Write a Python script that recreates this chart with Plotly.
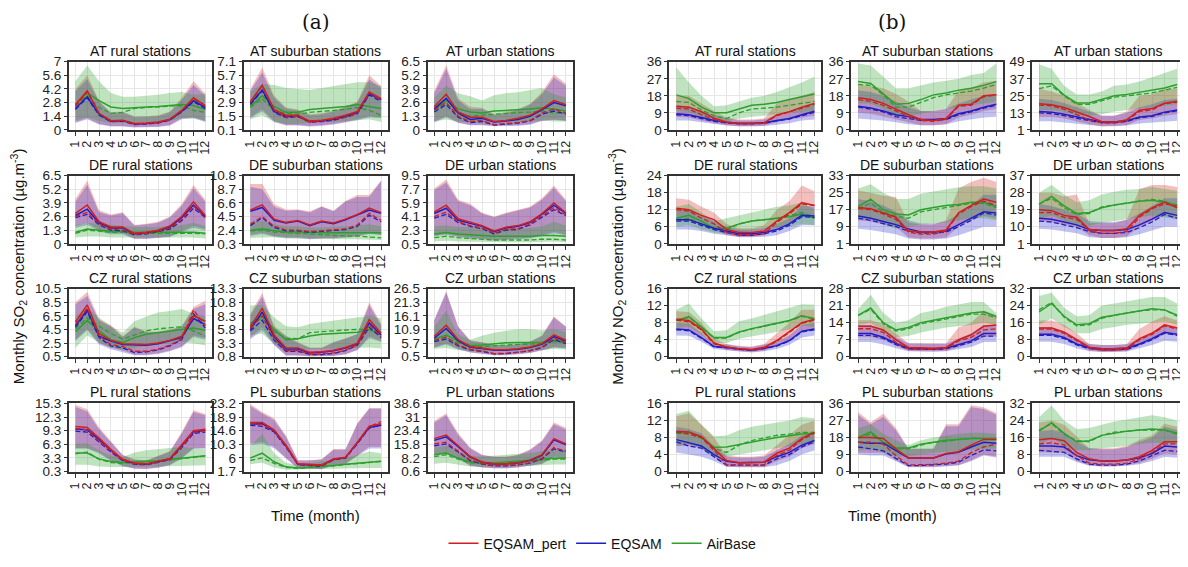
import plotly.graph_objects as go
import numpy as np

months = list(range(1, 13))
month_labels = [str(m) for m in months]
countries = ["AT", "DE", "CZ", "PL"]
stations = ["rural", "suburban", "urban"]
series_names = ["EQSAM_pert", "EQSAM", "AirBase"]

# ---------------- SO2 (panel a) ----------------
so2_AT_rural = dict(ylim=[0, 7],
    pert=[2.6, 4.0, 1.7, 0.95, 1.0, 0.65, 0.7, 0.8, 1.1, 2.0, 3.3, 2.5],
    pert_med=[2.4, 3.9, 1.7, 0.9, 0.95, 0.6, 0.65, 0.75, 1.05, 2.0, 3.2, 2.4],
    pert_lo=[0.8, 1.2, 0.6, 0.4, 0.4, 0.3, 0.3, 0.35, 0.5, 1.2, 1.3, 0.9],
    pert_hi=[4.2, 5.6, 3.0, 1.8, 1.9, 1.4, 1.4, 1.5, 1.9, 3.3, 5.0, 3.7],
    eq=[2.2, 3.4, 1.6, 0.9, 0.95, 0.6, 0.65, 0.75, 1.05, 1.9, 3.0, 2.3],
    eq_med=[2.1, 3.3, 1.5, 0.85, 0.9, 0.55, 0.6, 0.7, 1.0, 1.85, 2.9, 2.2],
    eq_lo=[0.7, 1.1, 0.55, 0.35, 0.35, 0.25, 0.3, 0.3, 0.45, 1.1, 1.2, 0.8],
    eq_hi=[4.0, 5.2, 2.9, 1.7, 1.8, 1.3, 1.35, 1.4, 1.8, 3.1, 4.6, 3.5],
    ab=[2.6, 3.8, 3.0, 2.35, 2.2, 2.3, 2.35, 2.4, 2.5, 2.6, 2.5, 2.1],
    ab_med=[2.5, 3.5, 2.3, 1.7, 1.8, 2.2, 2.3, 2.35, 2.4, 2.5, 2.0, 1.8],
    ab_lo=[1.0, 1.3, 0.9, 0.7, 0.7, 0.7, 0.75, 0.8, 0.9, 1.2, 1.2, 0.9],
    ab_hi=[5.0, 6.6, 5.0, 3.8, 3.4, 3.4, 3.5, 3.6, 3.8, 3.9, 3.6, 3.7])

so2_AT_suburban = dict(ylim=[0.1, 7.1],
    pert=[3.0, 4.7, 2.2, 1.6, 1.6, 1.0, 1.1, 1.3, 1.6, 2.0, 4.0, 3.3],
    pert_med=[2.9, 4.6, 2.1, 1.4, 1.5, 0.9, 1.0, 1.2, 1.4, 1.8, 3.9, 3.2],
    pert_lo=[1.4, 2.2, 1.0, 0.6, 0.6, 0.5, 0.6, 0.7, 0.9, 1.2, 1.5, 1.4],
    pert_hi=[4.3, 6.5, 3.6, 2.4, 2.2, 1.7, 1.8, 2.1, 2.5, 3.0, 5.7, 4.6],
    eq=[2.8, 4.2, 2.0, 1.5, 1.5, 0.95, 1.0, 1.2, 1.5, 1.9, 3.8, 3.2],
    eq_med=[2.7, 4.1, 1.9, 1.35, 1.45, 0.9, 0.95, 1.1, 1.4, 1.75, 3.7, 3.0],
    eq_lo=[1.3, 2.0, 0.9, 0.55, 0.55, 0.45, 0.5, 0.65, 0.85, 1.1, 1.4, 1.3],
    eq_hi=[4.1, 6.0, 3.4, 2.3, 2.1, 1.6, 1.7, 2.0, 2.4, 2.9, 5.3, 4.4],
    ab=[2.5, 3.6, 2.5, 1.9, 1.9, 2.2, 2.3, 2.4, 2.5, 2.7, 2.5, 2.3],
    ab_med=[2.4, 3.3, 2.1, 1.8, 1.7, 1.9, 2.0, 2.1, 2.2, 2.4, 2.1, 1.6],
    ab_lo=[1.2, 1.6, 0.9, 0.7, 0.7, 0.8, 0.9, 0.9, 1.0, 1.1, 1.2, 0.9],
    ab_hi=[4.0, 4.8, 4.7, 4.4, 4.3, 4.2, 4.4, 4.6, 4.8, 5.0, 5.0, 4.6])

so2_AT_urban = dict(ylim=[0, 6.5],
    pert=[2.2, 3.4, 1.7, 1.2, 1.2, 0.8, 0.9, 1.1, 1.4, 2.0, 2.8, 2.4],
    pert_med=[1.9, 2.6, 1.3, 0.8, 0.9, 0.5, 0.6, 0.7, 0.9, 1.6, 2.0, 1.6],
    pert_lo=[0.8, 1.3, 0.7, 0.5, 0.5, 0.4, 0.4, 0.45, 0.55, 0.9, 1.0, 0.9],
    pert_hi=[3.7, 6.2, 3.0, 2.2, 2.1, 1.5, 1.7, 2.0, 2.5, 3.6, 5.3, 4.4],
    eq=[2.0, 3.0, 1.6, 1.0, 1.1, 0.75, 0.85, 1.0, 1.3, 1.9, 2.6, 2.3],
    eq_med=[1.7, 2.4, 1.2, 0.7, 0.8, 0.45, 0.55, 0.65, 0.85, 1.5, 1.8, 1.5],
    eq_lo=[0.7, 1.2, 0.65, 0.45, 0.45, 0.35, 0.4, 0.4, 0.5, 0.85, 0.95, 0.85],
    eq_hi=[3.5, 5.8, 2.8, 2.0, 2.0, 1.4, 1.6, 1.9, 2.4, 3.4, 5.0, 4.2],
    ab=[1.9, 2.8, 2.0, 1.7, 1.6, 1.8, 1.85, 1.9, 2.0, 2.1, 2.0, 1.8],
    ab_med=[1.8, 2.5, 1.6, 1.3, 1.4, 1.5, 1.6, 1.65, 1.7, 1.8, 1.6, 1.6],
    ab_lo=[0.8, 1.0, 0.8, 0.7, 0.7, 0.7, 0.7, 0.7, 0.8, 0.9, 0.8, 0.8],
    ab_hi=[3.1, 4.2, 3.5, 3.2, 2.8, 3.3, 3.5, 3.6, 3.8, 4.0, 3.4, 3.1])

so2_DE_rural = dict(ylim=[0, 6.5],
    pert=[2.9, 3.7, 2.1, 1.6, 1.6, 1.0, 1.1, 1.3, 1.7, 2.6, 4.0, 2.7],
    pert_med=[2.6, 3.0, 1.9, 1.4, 1.3, 0.9, 1.0, 1.2, 1.5, 2.3, 3.6, 2.5],
    pert_lo=[1.7, 2.0, 1.3, 1.0, 1.0, 0.5, 0.5, 0.6, 0.7, 1.2, 1.7, 1.4],
    pert_hi=[4.3, 6.0, 3.2, 2.8, 3.0, 1.8, 1.9, 2.1, 2.6, 3.8, 5.6, 4.2],
    eq=[2.7, 3.3, 2.0, 1.5, 1.5, 0.95, 1.05, 1.25, 1.6, 2.5, 3.7, 2.6],
    eq_med=[2.5, 2.8, 1.8, 1.3, 1.25, 0.85, 0.95, 1.15, 1.4, 2.2, 3.4, 2.5],
    eq_lo=[1.5, 1.8, 1.2, 0.9, 0.9, 0.45, 0.45, 0.55, 0.65, 1.1, 1.5, 1.3],
    eq_hi=[4.0, 5.6, 3.0, 2.7, 2.9, 1.75, 1.85, 2.0, 2.5, 3.6, 5.3, 4.0],
    ab=[1.1, 1.4, 1.3, 1.2, 1.2, 1.1, 1.1, 1.1, 1.1, 1.1, 1.1, 1.0],
    ab_med=[1.0, 1.3, 1.2, 1.1, 1.1, 1.0, 1.0, 1.0, 1.05, 1.05, 1.0, 0.95],
    ab_lo=[0.6, 0.7, 0.7, 0.6, 0.6, 0.6, 0.6, 0.6, 0.6, 0.6, 0.6, 0.5],
    ab_hi=[1.8, 2.0, 1.9, 1.8, 1.7, 1.6, 1.6, 1.6, 1.7, 1.8, 2.0, 1.7])

so2_DE_suburban = dict(ylim=[0.3, 10.8],
    pert=[5.5, 6.3, 4.1, 3.6, 3.9, 3.2, 3.8, 3.5, 4.1, 4.8, 5.8, 5.1],
    pert_med=[3.3, 4.5, 3.0, 2.4, 2.4, 2.2, 2.3, 2.4, 2.6, 3.2, 5.0, 3.9],
    pert_lo=[1.7, 2.0, 1.5, 1.3, 1.3, 1.1, 1.2, 1.2, 1.3, 1.5, 2.0, 1.7],
    pert_hi=[9.5, 9.5, 6.4, 5.6, 5.6, 5.3, 6.1, 5.4, 6.9, 7.8, 7.8, 10.0],
    eq=[5.3, 5.9, 3.9, 3.5, 3.8, 3.1, 3.7, 3.4, 4.0, 4.7, 5.5, 5.0],
    eq_med=[3.1, 4.3, 2.8, 2.3, 2.3, 2.1, 2.2, 2.3, 2.5, 3.0, 4.7, 3.7],
    eq_lo=[1.5, 1.8, 1.4, 1.2, 1.2, 1.0, 1.1, 1.1, 1.2, 1.4, 1.8, 1.6],
    eq_hi=[9.1, 8.7, 6.0, 5.4, 5.5, 5.1, 6.0, 5.3, 6.8, 7.5, 7.5, 10.0],
    ab=[2.4, 2.6, 2.3, 2.1, 2.1, 2.0, 2.0, 2.0, 2.0, 2.0, 2.0, 2.0],
    ab_med=[2.3, 2.4, 2.1, 2.0, 1.9, 1.8, 1.6, 1.5, 1.5, 1.5, 1.4, 1.2],
    ab_lo=[1.2, 1.3, 1.3, 1.1, 1.1, 1.0, 1.0, 1.0, 1.0, 1.0, 1.0, 0.9],
    ab_hi=[3.6, 3.8, 3.3, 3.0, 3.0, 2.8, 2.8, 2.9, 2.9, 3.1, 3.3, 3.0])

so2_DE_urban = dict(ylim=[0.5, 9.5],
    pert=[4.7, 5.6, 3.8, 3.3, 2.9, 2.2, 2.7, 2.9, 3.4, 4.5, 5.9, 4.6],
    pert_med=[4.1, 4.7, 3.4, 2.9, 2.6, 1.9, 2.4, 2.5, 3.1, 4.2, 5.3, 4.3],
    pert_lo=[1.6, 1.8, 1.5, 1.3, 1.2, 1.0, 1.1, 1.2, 1.3, 1.6, 2.1, 1.7],
    pert_hi=[7.8, 9.0, 6.3, 5.8, 4.6, 4.1, 4.6, 5.0, 5.4, 6.5, 8.2, 6.3],
    eq=[4.5, 5.2, 3.6, 3.2, 2.8, 2.1, 2.6, 2.8, 3.3, 4.4, 5.6, 4.5],
    eq_med=[3.9, 4.4, 3.3, 2.8, 2.5, 1.8, 2.3, 2.4, 3.0, 4.0, 5.0, 4.2],
    eq_lo=[1.5, 1.7, 1.4, 1.2, 1.1, 0.9, 1.0, 1.1, 1.2, 1.5, 1.9, 1.6],
    eq_hi=[7.6, 8.6, 6.1, 5.6, 4.5, 4.0, 4.5, 4.9, 5.3, 6.3, 7.9, 6.1],
    ab=[1.8, 2.0, 1.8, 1.7, 1.6, 1.5, 1.5, 1.5, 1.5, 1.6, 1.6, 1.5],
    ab_med=[1.3, 1.5, 1.3, 1.2, 1.1, 1.0, 1.0, 1.0, 1.0, 1.1, 1.1, 1.0],
    ab_lo=[0.8, 0.9, 0.8, 0.8, 0.7, 0.7, 0.7, 0.7, 0.7, 0.7, 0.8, 0.7],
    ab_hi=[2.8, 2.9, 2.7, 2.7, 2.6, 2.4, 2.5, 2.5, 2.6, 2.8, 3.4, 2.9])

so2_CZ_rural = dict(ylim=[0.5, 10.5],
    pert=[5.6, 8.1, 3.9, 2.9, 2.4, 2.3, 2.3, 2.5, 2.9, 3.5, 6.5, 5.7],
    pert_med=[5.2, 7.6, 3.6, 2.3, 2.0, 1.3, 1.3, 1.6, 2.2, 3.1, 7.4, 5.0],
    pert_lo=[3.0, 4.6, 2.5, 1.8, 1.4, 0.8, 0.8, 1.0, 1.4, 2.0, 3.6, 3.2],
    pert_hi=[8.5, 10.0, 6.0, 5.1, 3.5, 4.9, 4.2, 4.2, 4.5, 5.0, 7.8, 8.7],
    eq=[5.0, 7.4, 3.5, 2.8, 2.3, 2.2, 2.2, 2.4, 2.8, 3.3, 6.1, 5.2],
    eq_med=[4.8, 7.1, 3.3, 2.1, 1.8, 1.1, 1.2, 1.5, 2.1, 3.0, 6.8, 4.7],
    eq_lo=[2.8, 4.4, 2.3, 1.6, 1.2, 0.7, 0.7, 0.9, 1.3, 1.9, 3.4, 3.0],
    eq_hi=[8.2, 9.4, 5.8, 4.9, 3.4, 4.8, 4.1, 4.1, 4.4, 4.9, 7.5, 8.2],
    ab=[4.2, 5.8, 4.3, 3.0, 2.6, 3.3, 3.8, 4.0, 4.2, 4.5, 4.7, 4.4],
    ab_med=[4.6, 6.2, 5.0, 3.9, 3.1, 3.7, 4.3, 4.6, 4.8, 4.9, 4.3, 3.5],
    ab_lo=[1.8, 3.6, 2.6, 1.9, 1.5, 1.8, 2.1, 2.3, 2.5, 2.7, 2.5, 2.2],
    ab_hi=[6.4, 7.6, 6.2, 5.0, 4.0, 5.7, 6.4, 7.0, 7.2, 7.5, 6.8, 6.4])

so2_CZ_suburban = dict(ylim=[0.8, 13.3],
    pert=[6.3, 9.7, 4.8, 2.4, 2.4, 1.6, 1.7, 2.0, 2.5, 3.3, 7.6, 5.1],
    pert_med=[6.0, 8.3, 4.1, 1.9, 1.9, 1.3, 1.3, 1.5, 2.0, 3.0, 6.7, 4.5],
    pert_lo=[4.3, 6.2, 3.1, 1.1, 1.1, 0.9, 0.9, 1.0, 1.3, 2.1, 4.5, 3.7],
    pert_hi=[8.7, 12.5, 6.5, 4.7, 3.5, 2.5, 2.5, 3.5, 4.2, 5.0, 10.8, 6.8],
    eq=[5.8, 9.0, 4.4, 2.2, 2.2, 1.5, 1.6, 1.9, 2.4, 3.2, 7.0, 4.8],
    eq_med=[5.5, 7.5, 3.8, 1.8, 1.8, 1.2, 1.2, 1.4, 1.9, 2.9, 6.2, 4.3],
    eq_lo=[4.0, 5.6, 2.9, 1.0, 1.0, 0.85, 0.85, 0.95, 1.2, 2.0, 4.2, 3.5],
    eq_hi=[8.4, 11.8, 6.2, 4.5, 3.3, 2.4, 2.4, 3.4, 4.1, 4.9, 10.3, 6.5],
    ab=[6.9, 8.3, 5.8, 3.9, 4.1, 4.6, 4.9, 5.0, 5.2, 5.3, 5.8, 4.8],
    ab_med=[6.6, 7.9, 5.4, 4.2, 4.1, 5.2, 5.4, 5.6, 5.7, 5.8, 5.8, 5.2],
    ab_lo=[4.8, 5.0, 3.2, 1.6, 2.0, 2.2, 2.2, 2.3, 2.3, 2.4, 2.5, 2.3],
    ab_hi=[10.2, 10.3, 8.0, 6.4, 6.2, 6.8, 7.1, 7.4, 7.7, 8.0, 8.3, 7.8])

so2_CZ_urban = dict(ylim=[0.5, 26.5],
    pert=[8.3, 12.5, 7.0, 4.4, 3.8, 3.2, 3.2, 3.5, 4.2, 5.5, 8.8, 6.8],
    pert_med=[6.8, 8.0, 5.0, 3.3, 2.7, 1.7, 1.8, 2.2, 2.9, 4.2, 7.6, 5.8],
    pert_lo=[4.0, 5.5, 3.5, 2.2, 1.8, 1.2, 1.2, 1.5, 2.0, 3.0, 4.2, 3.8],
    pert_hi=[14.5, 25.5, 12.0, 6.8, 6.0, 5.0, 5.0, 5.3, 6.3, 8.6, 15.8, 12.0],
    eq=[7.6, 11.3, 6.5, 4.1, 3.6, 3.0, 3.0, 3.3, 4.0, 5.2, 8.2, 6.5],
    eq_med=[6.3, 7.2, 4.6, 3.1, 2.5, 1.6, 1.7, 2.1, 2.7, 4.0, 7.0, 5.5],
    eq_lo=[3.8, 5.2, 3.3, 2.1, 1.7, 1.1, 1.1, 1.4, 1.9, 2.9, 4.0, 3.6],
    eq_hi=[14.3, 25.0, 11.8, 6.6, 5.9, 4.9, 4.9, 5.2, 6.2, 8.4, 15.5, 11.8],
    ab=[7.2, 8.8, 6.5, 4.8, 5.0, 5.4, 5.8, 5.9, 6.0, 6.0, 6.8, 6.5],
    ab_med=[6.5, 7.5, 5.8, 4.3, 4.4, 4.7, 5.0, 5.2, 5.3, 5.5, 6.2, 6.0],
    ab_lo=[3.5, 3.8, 3.1, 2.6, 2.7, 2.8, 2.9, 3.0, 3.0, 3.1, 3.4, 3.3],
    ab_hi=[12.0, 18.0, 9.0, 7.0, 8.5, 9.6, 10.4, 11.0, 11.0, 10.5, 11.0, 10.0])

so2_PL_rural = dict(ylim=[0.3, 15.3],
    pert=[10.2, 10.0, 7.7, 5.2, 3.0, 2.2, 2.0, 2.6, 3.2, 6.2, 9.3, 9.6],
    pert_med=[9.8, 9.5, 7.0, 4.8, 2.8, 2.0, 1.9, 2.4, 3.0, 5.8, 9.0, 9.3],
    pert_lo=[5.5, 5.5, 4.5, 2.8, 1.6, 1.0, 0.9, 1.2, 1.8, 3.3, 5.5, 5.5],
    pert_hi=[15.0, 14.0, 10.0, 7.0, 4.0, 3.0, 2.8, 3.8, 4.8, 9.0, 13.8, 13.0],
    eq=[9.7, 9.5, 7.4, 5.0, 2.9, 2.1, 1.9, 2.5, 3.1, 6.0, 9.0, 9.4],
    eq_med=[9.2, 9.0, 6.8, 4.6, 2.7, 1.9, 1.8, 2.3, 2.9, 5.6, 8.7, 9.0],
    eq_lo=[5.3, 5.3, 4.3, 2.7, 1.5, 0.95, 0.85, 1.15, 1.7, 3.2, 5.3, 5.3],
    eq_hi=[14.5, 13.5, 9.6, 6.8, 3.9, 2.9, 2.7, 3.7, 4.7, 8.7, 13.4, 12.7],
    ab=[4.4, 4.4, 3.1, 2.5, 2.3, 2.5, 2.6, 2.7, 3.0, 3.3, 3.6, 3.8],
    ab_med=[4.2, 4.6, 3.0, 2.3, 2.1, 2.4, 2.5, 2.6, 2.9, 3.2, 3.5, 3.7],
    ab_lo=[1.8, 1.8, 1.4, 1.3, 1.3, 1.3, 1.4, 1.4, 1.5, 1.6, 1.6, 1.7],
    ab_hi=[6.5, 6.5, 5.0, 3.8, 3.5, 4.5, 5.0, 5.3, 5.5, 5.7, 5.5, 5.2])

so2_PL_suburban = dict(ylim=[1.7, 23.2],
    pert=[17.2, 17.2, 14.9, 10.0, 4.2, 4.0, 3.8, 5.7, 6.2, 11.0, 16.0, 16.8],
    pert_med=[17.0, 16.5, 14.6, 9.6, 4.0, 3.8, 3.5, 5.5, 6.0, 10.7, 15.8, 17.5],
    pert_lo=[10.5, 11.0, 9.5, 6.0, 2.8, 2.7, 2.5, 3.8, 4.2, 6.8, 9.5, 9.5],
    pert_hi=[23.0, 20.5, 18.5, 13.0, 5.3, 5.3, 5.6, 8.8, 8.8, 17.0, 21.8, 21.8],
    eq=[16.7, 16.8, 14.5, 9.8, 4.0, 3.9, 3.7, 5.6, 6.1, 10.8, 15.6, 16.3],
    eq_med=[16.3, 16.0, 14.2, 9.4, 3.9, 3.7, 3.4, 5.4, 5.9, 10.5, 15.4, 16.5],
    eq_lo=[10.0, 10.5, 9.1, 5.8, 2.7, 2.6, 2.4, 3.7, 4.1, 6.6, 9.0, 9.0],
    eq_hi=[22.4, 20.0, 18.0, 12.7, 5.2, 5.2, 5.5, 8.6, 8.6, 16.7, 21.5, 21.5],
    ab=[6.0, 7.5, 4.8, 3.2, 2.8, 3.0, 3.2, 3.6, 4.0, 4.4, 4.8, 5.0],
    ab_med=[5.2, 6.0, 4.3, 3.0, 2.7, 2.9, 3.1, 3.5, 3.9, 4.3, 4.7, 4.9],
    ab_lo=[4.0, 4.5, 3.0, 2.3, 2.2, 2.3, 2.4, 2.5, 2.6, 2.7, 2.8, 2.8],
    ab_hi=[9.8, 13.5, 7.5, 4.5, 3.8, 4.5, 5.0, 5.5, 6.0, 7.0, 8.0, 7.5])

so2_PL_urban = dict(ylim=[0.6, 38.6],
    pert=[19.0, 21.0, 15.0, 9.0, 6.0, 5.0, 5.0, 5.5, 7.0, 10.0, 19.0, 16.0],
    pert_med=[16.0, 17.0, 12.0, 7.0, 5.0, 4.0, 4.0, 4.5, 5.5, 8.0, 14.0, 12.0],
    pert_lo=[10.0, 11.0, 8.0, 4.0, 3.0, 2.5, 2.5, 3.0, 4.0, 5.0, 9.0, 8.0],
    pert_hi=[29.0, 33.0, 22.0, 14.0, 10.0, 9.0, 9.0, 10.0, 13.0, 18.0, 28.0, 25.0],
    eq=[18.0, 20.0, 14.5, 8.7, 5.8, 4.9, 4.9, 5.4, 6.8, 9.7, 18.3, 15.5],
    eq_med=[15.0, 16.0, 11.5, 6.7, 4.8, 3.8, 3.8, 4.3, 5.3, 7.7, 13.3, 11.5],
    eq_lo=[9.5, 10.5, 7.6, 3.8, 2.9, 2.4, 2.4, 2.9, 3.8, 4.8, 8.6, 7.6],
    eq_hi=[28.0, 32.0, 21.0, 13.5, 9.7, 8.7, 8.7, 9.7, 12.5, 17.5, 27.0, 24.0],
    ab=[10.0, 11.0, 8.0, 6.0, 5.5, 5.5, 6.0, 6.5, 7.0, 7.5, 8.0, 8.0],
    ab_med=[9.0, 10.0, 7.5, 5.5, 5.0, 5.0, 5.5, 6.0, 6.5, 7.0, 7.5, 7.5],
    ab_lo=[5.0, 5.5, 4.5, 3.5, 3.2, 3.2, 3.4, 3.6, 3.8, 4.0, 4.5, 4.5],
    ab_hi=[14.0, 15.0, 12.0, 9.5, 9.0, 9.5, 10.0, 10.5, 11.0, 12.0, 13.0, 13.0])

# ---------------- NO2 (panel b) ----------------
no2_AT_rural = dict(ylim=[0, 36],
    pert=[12.5, 12.0, 9.6, 6.2, 4.2, 3.4, 3.4, 3.7, 7.9, 9.6, 12.0, 14.0],
    pert_med=[11.5, 11.0, 8.0, 5.5, 3.8, 3.2, 3.2, 3.5, 7.5, 9.5, 11.5, 13.5],
    pert_lo=[7.0, 6.5, 5.0, 3.5, 2.5, 2.0, 2.0, 2.2, 4.0, 5.5, 6.5, 7.5],
    pert_hi=[18.0, 18.0, 14.0, 10.0, 6.5, 5.5, 5.5, 6.0, 14.0, 16.0, 18.0, 20.0],
    eq=[8.5, 8.0, 6.5, 5.0, 4.0, 3.5, 3.5, 3.8, 5.0, 6.0, 8.0, 9.8],
    eq_med=[8.0, 7.5, 6.0, 4.5, 3.7, 3.2, 3.2, 3.5, 4.7, 5.7, 7.5, 9.3],
    eq_lo=[5.0, 5.0, 4.0, 3.0, 2.3, 1.8, 1.8, 2.0, 2.7, 3.5, 5.0, 5.5],
    eq_hi=[13.0, 12.5, 10.0, 8.0, 6.0, 5.0, 5.0, 5.5, 8.0, 9.0, 11.5, 13.5],
    ab=[18.5, 16.5, 12.0, 9.0, 9.0, 11.0, 13.0, 13.5, 14.5, 16.0, 17.5, 19.0],
    ab_med=[15.0, 14.5, 10.5, 7.5, 6.0, 9.0, 11.0, 11.5, 12.0, 13.0, 14.0, 15.0],
    ab_lo=[10.0, 9.5, 7.0, 5.0, 4.5, 6.0, 7.0, 7.5, 8.0, 9.0, 9.5, 10.0],
    ab_hi=[33.0, 25.0, 18.0, 12.5, 13.0, 15.0, 17.0, 18.0, 20.0, 22.5, 25.0, 28.0])

no2_AT_suburban = dict(ylim=[0, 36],
    pert=[17.0, 16.0, 14.0, 11.0, 8.0, 5.5, 5.0, 6.0, 13.0, 13.5, 18.0, 18.5],
    pert_med=[16.0, 15.0, 13.0, 10.0, 7.0, 5.0, 4.5, 5.5, 12.5, 13.0, 17.5, 18.5],
    pert_lo=[9.0, 8.5, 7.0, 5.5, 4.0, 2.5, 2.5, 3.0, 6.5, 8.0, 10.0, 11.0],
    pert_hi=[24.0, 23.0, 22.0, 19.0, 15.0, 10.0, 10.0, 11.0, 21.0, 22.0, 25.0, 26.0],
    eq=[12.5, 11.5, 10.0, 8.0, 7.0, 5.5, 5.5, 6.0, 8.5, 10.0, 12.0, 13.5],
    eq_med=[12.0, 11.0, 9.5, 7.0, 6.0, 5.0, 5.0, 5.5, 8.0, 9.5, 11.5, 13.0],
    eq_lo=[6.0, 5.5, 5.0, 4.0, 3.0, 2.5, 2.5, 3.0, 4.5, 5.5, 6.5, 7.0],
    eq_hi=[21.0, 20.0, 18.0, 15.0, 12.0, 10.0, 10.0, 11.0, 14.0, 16.0, 18.0, 19.0],
    ab=[25.5, 24.5, 19.0, 13.5, 14.0, 16.0, 18.5, 19.5, 21.0, 22.0, 23.5, 25.5],
    ab_med=[24.0, 23.5, 18.5, 12.0, 12.0, 14.5, 17.0, 18.5, 19.5, 20.5, 22.0, 24.0],
    ab_lo=[14.0, 14.0, 11.0, 7.0, 7.0, 8.5, 10.0, 11.0, 12.0, 13.0, 14.0, 15.0],
    ab_hi=[35.0, 34.0, 28.0, 22.0, 22.0, 23.5, 25.0, 26.0, 27.0, 29.0, 30.0, 35.0])

no2_AT_urban = dict(ylim=[1, 49],
    pert=[19.4, 18.7, 16.7, 13.8, 10.4, 6.8, 6.4, 8.2, 14.9, 16.0, 19.8, 21.2],
    pert_med=[18.5, 18.0, 15.5, 12.0, 8.0, 6.0, 6.0, 7.5, 14.0, 15.0, 19.5, 20.5],
    pert_lo=[10.0, 10.0, 9.0, 7.0, 5.0, 3.5, 3.5, 4.5, 8.0, 9.0, 11.0, 12.0],
    pert_hi=[30.0, 28.0, 25.0, 20.0, 15.0, 11.0, 11.0, 14.0, 25.0, 26.0, 30.0, 30.0],
    eq=[14.0, 13.5, 12.0, 10.0, 8.5, 6.5, 6.5, 7.5, 10.0, 11.0, 13.5, 15.0],
    eq_med=[13.0, 12.5, 11.0, 9.0, 7.5, 6.0, 6.0, 7.0, 9.5, 10.5, 13.0, 14.5],
    eq_lo=[7.0, 7.0, 6.5, 5.5, 4.5, 3.5, 3.5, 4.0, 5.5, 6.0, 7.0, 7.5],
    eq_hi=[23.0, 22.0, 20.0, 17.0, 14.0, 11.0, 11.0, 13.0, 17.0, 19.0, 22.0, 23.0],
    ab=[33.5, 33.5, 25.5, 20.0, 20.0, 22.5, 25.0, 26.0, 27.5, 29.0, 30.5, 33.0],
    ab_med=[30.0, 32.0, 25.0, 19.0, 19.0, 21.5, 24.0, 25.0, 26.0, 27.0, 29.0, 31.0],
    ab_lo=[15.0, 15.0, 14.0, 11.0, 11.0, 12.0, 14.0, 15.0, 16.0, 17.0, 18.0, 19.0],
    ab_hi=[47.0, 44.0, 32.0, 26.0, 26.0, 28.0, 32.0, 33.0, 35.0, 38.0, 41.0, 44.0])

no2_DE_rural = dict(ylim=[0, 24],
    pert=[12.5, 12.0, 10.0, 8.5, 5.0, 4.0, 4.0, 4.5, 8.0, 11.0, 14.5, 13.5],
    pert_med=[12.0, 11.5, 9.0, 7.0, 4.0, 3.0, 3.0, 3.5, 7.5, 10.5, 14.0, 13.5],
    pert_lo=[8.0, 8.0, 6.5, 5.0, 3.0, 2.5, 2.5, 3.0, 5.0, 7.0, 10.0, 9.5],
    pert_hi=[16.0, 15.5, 13.0, 11.0, 7.0, 5.5, 5.5, 6.5, 12.0, 15.0, 20.5, 18.5],
    eq=[8.5, 8.5, 7.0, 5.5, 4.5, 3.5, 3.5, 4.0, 5.0, 7.0, 10.0, 9.8],
    eq_med=[8.0, 8.0, 6.5, 5.0, 4.0, 3.0, 3.0, 3.5, 4.5, 6.5, 9.5, 9.3],
    eq_lo=[5.0, 5.0, 4.5, 3.5, 3.0, 2.3, 2.3, 2.5, 3.0, 4.5, 6.5, 6.5],
    eq_hi=[12.0, 12.0, 10.0, 8.0, 6.0, 5.0, 5.0, 5.5, 7.0, 9.0, 13.5, 13.0],
    ab=[9.0, 10.0, 8.0, 5.5, 5.5, 7.0, 8.0, 8.5, 9.0, 9.5, 10.5, 9.0],
    ab_med=[8.5, 9.0, 7.0, 5.0, 5.0, 7.0, 8.0, 8.5, 9.0, 10.0, 11.0, 9.5],
    ab_lo=[6.0, 6.5, 5.0, 4.0, 3.5, 4.0, 4.5, 5.0, 5.5, 6.0, 7.0, 6.5],
    ab_hi=[13.0, 14.0, 11.0, 8.0, 9.0, 10.0, 11.0, 12.0, 13.0, 13.5, 14.5, 12.0])

no2_DE_suburban = dict(ylim=[1, 33],
    pert=[18.0, 17.5, 15.5, 13.5, 7.0, 6.5, 6.5, 7.5, 15.5, 19.0, 22.0, 20.5],
    pert_med=[17.5, 17.0, 15.0, 12.5, 6.5, 5.5, 5.5, 7.0, 15.0, 18.5, 21.0, 19.0],
    pert_lo=[12.0, 11.5, 10.0, 9.0, 4.0, 3.5, 3.5, 4.0, 9.0, 12.0, 14.0, 13.0],
    pert_hi=[26.0, 25.0, 23.5, 23.0, 11.0, 10.0, 10.0, 12.0, 27.0, 30.0, 32.0, 30.0],
    eq=[14.0, 13.0, 11.5, 10.0, 8.0, 6.5, 6.5, 7.0, 10.0, 13.0, 16.0, 15.5],
    eq_med=[13.0, 12.0, 10.5, 9.0, 7.0, 6.0, 6.0, 6.5, 9.0, 12.0, 15.5, 14.5],
    eq_lo=[8.0, 7.5, 6.5, 5.5, 3.5, 3.0, 3.0, 3.5, 5.0, 7.0, 9.0, 9.0],
    eq_hi=[22.0, 21.0, 19.0, 16.0, 12.0, 10.5, 10.5, 11.5, 15.0, 19.0, 24.0, 24.0],
    ab=[18.5, 22.0, 17.0, 15.0, 14.5, 17.0, 18.0, 19.0, 19.5, 20.5, 20.5, 18.5],
    ab_med=[17.5, 20.0, 16.0, 14.0, 13.0, 16.0, 17.0, 18.0, 19.0, 20.0, 20.0, 18.0],
    ab_lo=[12.0, 13.0, 10.0, 8.0, 9.0, 10.0, 10.5, 11.0, 12.0, 13.0, 13.0, 12.0],
    ab_hi=[27.0, 29.0, 25.0, 22.0, 22.0, 24.5, 25.5, 26.5, 27.5, 28.0, 28.0, 27.0])

no2_DE_urban = dict(ylim=[1, 37],
    pert=[19.0, 18.5, 16.0, 15.0, 8.5, 8.0, 8.0, 9.0, 16.0, 20.0, 23.0, 20.0],
    pert_med=[17.5, 17.5, 15.0, 14.0, 8.0, 6.5, 6.5, 7.5, 15.0, 19.5, 22.0, 21.0],
    pert_lo=[13.0, 12.5, 11.0, 10.0, 5.5, 4.0, 4.0, 5.0, 10.0, 13.0, 16.0, 14.0],
    pert_hi=[28.0, 28.0, 26.0, 27.0, 12.0, 12.0, 12.0, 14.0, 30.0, 32.0, 32.0, 31.0],
    eq=[14.5, 14.0, 12.5, 11.0, 8.5, 8.0, 8.0, 8.5, 11.0, 14.0, 17.5, 16.0],
    eq_med=[13.0, 12.5, 11.0, 9.5, 7.5, 6.5, 6.5, 7.0, 9.5, 12.5, 16.5, 14.5],
    eq_lo=[9.0, 8.5, 7.5, 6.5, 4.5, 4.0, 4.0, 4.5, 6.0, 8.0, 10.0, 10.0],
    eq_hi=[22.0, 21.0, 19.0, 17.0, 13.0, 12.5, 12.5, 13.5, 17.0, 21.0, 25.0, 25.0],
    ab=[22.0, 26.0, 21.0, 17.0, 17.5, 20.0, 21.5, 22.5, 23.5, 24.0, 23.0, 21.5],
    ab_med=[22.0, 25.0, 20.0, 16.5, 17.0, 20.5, 21.5, 22.5, 23.5, 24.5, 23.5, 21.0],
    ab_lo=[14.0, 16.0, 13.0, 10.0, 10.5, 12.0, 13.0, 14.0, 15.0, 16.0, 15.0, 14.0],
    ab_hi=[28.0, 32.0, 27.0, 23.0, 24.0, 27.0, 28.5, 29.5, 30.0, 31.0, 30.0, 29.0])

no2_CZ_rural = dict(ylim=[0, 16],
    pert=[8.8, 8.5, 6.5, 3.2, 2.3, 1.9, 1.7, 2.2, 3.8, 5.8, 8.0, 8.8],
    pert_med=[8.6, 8.2, 6.3, 3.0, 2.2, 1.8, 1.6, 2.0, 3.6, 5.6, 7.8, 8.6],
    pert_lo=[6.5, 6.3, 4.8, 2.4, 1.6, 1.3, 1.1, 1.4, 2.5, 4.0, 5.8, 6.5],
    pert_hi=[10.7, 10.5, 8.0, 4.3, 3.0, 2.6, 2.4, 3.0, 5.5, 8.0, 11.0, 11.0],
    eq=[6.5, 6.3, 4.5, 2.4, 2.2, 1.8, 1.6, 2.0, 2.6, 3.8, 6.0, 6.5],
    eq_med=[6.3, 6.1, 4.3, 2.3, 2.1, 1.7, 1.5, 1.9, 2.5, 3.7, 5.8, 6.3],
    eq_lo=[5.0, 4.9, 3.5, 1.8, 1.5, 1.2, 1.0, 1.3, 1.8, 2.8, 4.5, 5.0],
    eq_hi=[8.0, 7.8, 5.5, 3.0, 2.9, 2.4, 2.2, 2.8, 3.5, 5.0, 7.5, 8.0],
    ab=[8.5, 9.4, 7.0, 4.5, 4.5, 5.8, 6.6, 7.2, 7.8, 8.5, 9.6, 9.0],
    ab_med=[8.7, 9.2, 6.8, 4.4, 4.4, 5.7, 6.5, 7.1, 7.7, 8.4, 9.5, 8.8],
    ab_lo=[6.8, 7.1, 5.3, 3.2, 3.2, 4.2, 4.8, 5.3, 5.8, 6.4, 7.3, 7.0],
    ab_hi=[11.0, 12.5, 9.0, 6.0, 6.2, 8.3, 9.0, 9.8, 10.6, 11.5, 12.3, 12.2])

no2_CZ_suburban = dict(ylim=[0, 28],
    pert=[12.5, 12.5, 11.0, 7.0, 3.8, 3.5, 3.5, 3.8, 7.0, 9.0, 12.5, 13.0],
    pert_med=[11.5, 11.5, 10.0, 6.0, 3.2, 3.0, 3.0, 3.4, 6.5, 8.0, 11.0, 11.5],
    pert_lo=[8.0, 8.0, 7.0, 4.5, 2.3, 2.2, 2.2, 2.3, 4.0, 5.5, 8.0, 8.5],
    pert_hi=[15.0, 15.0, 13.5, 9.5, 5.5, 5.5, 5.5, 5.5, 12.0, 14.0, 19.0, 17.0],
    eq=[9.5, 9.5, 8.0, 5.5, 3.5, 3.3, 3.3, 3.5, 5.0, 6.5, 9.5, 9.5],
    eq_med=[8.8, 8.8, 7.5, 5.0, 3.2, 3.0, 3.0, 3.2, 4.6, 6.0, 8.5, 8.5],
    eq_lo=[6.0, 6.0, 5.0, 3.5, 2.2, 2.0, 2.0, 2.2, 3.0, 4.0, 6.0, 6.0],
    eq_hi=[13.0, 13.0, 11.0, 8.0, 5.5, 5.3, 5.3, 5.3, 7.5, 9.5, 13.0, 13.0],
    ab=[17.0, 20.0, 14.0, 11.0, 12.0, 14.0, 15.0, 16.0, 17.0, 18.0, 18.5, 16.5],
    ab_med=[17.0, 19.5, 13.5, 10.5, 11.5, 13.5, 14.5, 15.5, 16.5, 17.5, 17.5, 16.0],
    ab_lo=[13.0, 14.0, 10.0, 8.0, 8.5, 10.0, 11.0, 12.0, 12.5, 13.0, 14.0, 13.0],
    ab_hi=[19.5, 25.5, 18.0, 14.0, 15.0, 18.0, 19.0, 20.5, 21.5, 22.5, 22.5, 18.0])

no2_CZ_urban = dict(ylim=[0, 32],
    pert=[13.5, 13.5, 11.5, 8.0, 4.5, 3.8, 3.8, 4.2, 8.5, 11.0, 15.0, 13.5],
    pert_med=[13.0, 13.0, 11.0, 7.5, 4.0, 3.0, 3.0, 3.5, 8.0, 10.5, 14.5, 13.0],
    pert_lo=[10.0, 10.0, 8.5, 5.5, 2.8, 2.3, 2.3, 2.6, 5.5, 7.5, 10.5, 10.0],
    pert_hi=[17.0, 17.0, 15.0, 11.0, 6.0, 5.5, 5.5, 6.0, 13.0, 16.5, 19.0, 17.0],
    eq=[10.5, 10.5, 9.0, 6.0, 4.2, 3.8, 3.8, 4.0, 6.0, 8.5, 11.5, 10.5],
    eq_med=[10.0, 10.0, 8.5, 5.5, 3.8, 3.2, 3.2, 3.5, 5.5, 8.0, 11.0, 10.0],
    eq_lo=[7.0, 7.0, 6.0, 4.0, 2.6, 2.2, 2.2, 2.4, 3.8, 5.5, 7.5, 7.0],
    eq_hi=[14.0, 14.0, 12.0, 8.5, 6.0, 5.5, 5.5, 5.8, 8.5, 11.5, 15.0, 14.0],
    ab=[21.0, 25.0, 19.0, 15.0, 15.5, 18.5, 19.5, 20.5, 21.5, 22.5, 22.0, 19.5],
    ab_med=[22.0, 25.5, 18.5, 14.5, 15.0, 18.0, 19.5, 20.5, 21.5, 22.0, 22.0, 19.0],
    ab_lo=[15.0, 18.0, 14.0, 11.0, 11.0, 13.0, 14.0, 15.0, 15.5, 16.0, 16.5, 15.0],
    ab_hi=[28.5, 30.0, 23.0, 19.0, 19.5, 24.0, 25.0, 26.0, 27.0, 28.0, 28.0, 25.0])

no2_PL_rural = dict(ylim=[0, 16],
    pert=[9.5, 9.3, 8.2, 5.5, 2.6, 2.1, 2.1, 2.2, 4.3, 5.5, 7.8, 9.2],
    pert_med=[9.3, 8.8, 8.0, 5.0, 1.6, 1.5, 1.5, 1.6, 3.8, 5.0, 7.5, 9.0],
    pert_lo=[6.0, 6.0, 5.5, 3.5, 1.2, 1.0, 1.0, 1.1, 2.5, 3.5, 5.5, 6.5],
    pert_hi=[13.0, 13.7, 11.0, 8.0, 3.8, 3.5, 3.5, 3.8, 6.2, 8.5, 11.0, 12.0],
    eq=[7.5, 6.8, 6.0, 4.0, 2.4, 2.1, 2.1, 2.2, 3.5, 4.5, 6.2, 7.3],
    eq_med=[7.0, 6.0, 5.5, 3.5, 1.5, 1.5, 1.5, 1.5, 3.0, 4.0, 5.8, 7.0],
    eq_lo=[4.5, 4.0, 3.5, 2.5, 1.1, 1.0, 1.0, 1.0, 1.5, 2.5, 4.0, 5.0],
    eq_hi=[10.5, 10.0, 9.0, 6.0, 3.5, 3.3, 3.3, 3.5, 5.0, 6.5, 8.5, 9.5],
    ab=[9.0, 9.3, 8.0, 5.7, 5.8, 6.4, 7.0, 7.5, 8.0, 8.4, 8.8, 9.0],
    ab_med=[9.0, 9.0, 7.8, 5.5, 4.5, 6.2, 7.3, 7.9, 8.5, 8.8, 9.2, 9.2],
    ab_lo=[6.0, 6.5, 5.5, 3.5, 3.5, 4.0, 4.5, 5.0, 5.5, 6.0, 6.5, 6.5],
    ab_hi=[13.5, 14.3, 11.0, 8.3, 8.5, 9.7, 10.5, 11.0, 11.5, 12.0, 12.8, 12.5])

no2_PL_suburban = dict(ylim=[0, 36],
    pert=[18.0, 18.0, 17.5, 12.0, 7.2, 7.2, 7.2, 9.5, 10.5, 14.0, 17.0, 17.0],
    pert_med=[15.5, 15.5, 14.5, 8.5, 3.5, 3.5, 3.8, 4.5, 5.5, 10.0, 13.0, 14.5],
    pert_lo=[10.0, 10.0, 10.0, 6.0, 2.5, 2.5, 2.5, 3.0, 3.5, 6.0, 9.0, 8.0],
    pert_hi=[31.5, 26.0, 30.5, 23.0, 12.0, 12.0, 12.0, 25.0, 25.0, 35.0, 34.0, 31.0],
    eq=[15.5, 15.0, 15.0, 11.0, 7.2, 7.2, 7.2, 9.3, 10.2, 13.0, 15.5, 15.0],
    eq_med=[13.0, 12.0, 11.0, 7.0, 3.2, 3.2, 3.5, 4.0, 5.0, 8.5, 11.5, 11.0],
    eq_lo=[9.0, 8.5, 8.5, 5.5, 2.3, 2.3, 2.3, 2.8, 3.2, 5.5, 8.5, 7.5],
    eq_hi=[30.0, 25.0, 29.0, 22.0, 12.0, 12.0, 12.0, 24.0, 24.0, 34.0, 33.0, 30.0],
    ab=[18.0, 21.0, 15.5, 12.5, 12.5, 14.5, 15.5, 16.5, 17.0, 17.5, 17.5, 17.5],
    ab_med=[17.5, 20.0, 15.5, 12.0, 12.0, 14.0, 15.5, 16.0, 17.0, 17.5, 17.5, 17.0],
    ab_lo=[11.0, 12.0, 10.0, 8.0, 8.0, 9.0, 10.0, 10.5, 11.0, 11.5, 12.0, 12.0],
    ab_hi=[23.0, 25.0, 20.0, 16.5, 14.0, 16.5, 18.0, 19.0, 20.0, 20.5, 20.5, 20.0])

no2_PL_urban = dict(ylim=[0, 32],
    pert=[15.0, 15.5, 14.5, 9.0, 6.0, 5.0, 5.0, 5.5, 7.0, 10.0, 14.0, 14.0],
    pert_med=[13.0, 13.5, 12.5, 7.5, 4.0, 3.5, 3.5, 4.0, 6.0, 9.0, 13.0, 13.0],
    pert_lo=[9.0, 9.0, 9.0, 5.0, 3.0, 2.5, 2.5, 3.0, 4.0, 6.0, 8.5, 8.0],
    pert_hi=[23.0, 24.0, 22.0, 16.5, 11.0, 11.0, 11.0, 12.0, 15.0, 17.0, 22.5, 21.0],
    eq=[12.0, 12.0, 11.5, 7.5, 5.5, 5.0, 5.0, 5.5, 6.5, 8.5, 12.0, 11.5],
    eq_med=[10.0, 9.5, 9.0, 6.0, 3.5, 3.0, 3.0, 3.5, 5.0, 7.5, 10.0, 9.5],
    eq_lo=[7.0, 7.0, 7.0, 4.5, 2.8, 2.4, 2.4, 2.8, 3.5, 5.0, 7.0, 6.5],
    eq_hi=[19.0, 19.5, 18.5, 14.0, 11.0, 10.5, 10.5, 11.5, 14.0, 16.0, 21.0, 19.5],
    ab=[19.0, 23.0, 18.0, 14.0, 14.5, 17.0, 18.0, 19.0, 19.5, 20.0, 19.5, 18.0],
    ab_med=[19.5, 22.5, 17.5, 14.5, 14.0, 17.0, 18.5, 19.0, 19.5, 19.5, 19.5, 17.5],
    ab_lo=[12.0, 16.0, 12.0, 10.0, 10.0, 11.0, 11.5, 12.0, 13.0, 13.5, 13.5, 12.5],
    ab_hi=[25.5, 31.0, 24.0, 20.0, 20.5, 22.0, 23.5, 24.5, 25.5, 26.5, 25.5, 24.0])

so2_panels = [[so2_AT_rural, so2_AT_suburban, so2_AT_urban],
              [so2_DE_rural, so2_DE_suburban, so2_DE_urban],
              [so2_CZ_rural, so2_CZ_suburban, so2_CZ_urban],
              [so2_PL_rural, so2_PL_suburban, so2_PL_urban]]
no2_panels = [[no2_AT_rural, no2_AT_suburban, no2_AT_urban],
              [no2_DE_rural, no2_DE_suburban, no2_DE_urban],
              [no2_CZ_rural, no2_CZ_suburban, no2_CZ_urban],
              [no2_PL_rural, no2_PL_suburban, no2_PL_urban]]

# ---------------- styling / layout ----------------
W, H = 1188, 567
OFF = 8  # page body margin of the html page
LINE = {"pert": "#d01f1f", "eq": "#1f1fc8", "ab": "#2ca02c"}
FILL = {"pert": "rgba(214,39,40,0.30)", "eq": "rgba(30,30,205,0.28)", "ab": "rgba(44,160,44,0.30)"}
FONT = "Liberation Sans, Arial, sans-serif"

row_top = [56, 173, 289, 407]
row_h = 70
cols_a = [(69, 212), (244, 388), (428, 573)]
cols_b = [(670, 822), (852, 1004), (1033, 1185)]


def px(x):
    return (x - OFF) / W


def py(y):
    return 1 - (y - OFF) / H


fig = go.Figure()
layout = {}
annotations = []


def fmt(v):
    s = "%.1f" % v
    return s[:-2] if s.endswith(".0") else s


k = 0
for panel, cols, nt in [(so2_panels, cols_a, 6), (no2_panels, cols_b, 5)]:
    for r in range(4):
        for c in range(3):
            k += 1
            d = panel[r][c]
            xa = "x" if k == 1 else "x%d" % k
            ya = "y" if k == 1 else "y%d" % k
            x0, x1 = cols[c]
            y0 = row_top[r]
            y1 = y0 + row_h
            lo, hi = d["ylim"]
            ticks = list(np.linspace(lo, hi, nt))
            for key in ["pert", "eq", "ab"]:
                fig.add_trace(go.Scatter(
                    x=months + months[::-1],
                    y=d[key + "_hi"] + d[key + "_lo"][::-1],
                    fill="toself", fillcolor=FILL[key], line=dict(width=0),
                    mode="lines", hoverinfo="skip", showlegend=False,
                    xaxis=xa, yaxis=ya))
            for key in ["ab", "eq", "pert"]:
                fig.add_trace(go.Scatter(x=months, y=d[key + "_med"], mode="lines",
                                         line=dict(color=LINE[key], width=1.3, dash="5px,2.5px"),
                                         showlegend=False, xaxis=xa, yaxis=ya))
                fig.add_trace(go.Scatter(x=months, y=d[key], mode="lines",
                                         line=dict(color=LINE[key], width=1.5),
                                         showlegend=False, xaxis=xa, yaxis=ya))
            axname_x = "xaxis" if k == 1 else "xaxis%d" % k
            axname_y = "yaxis" if k == 1 else "yaxis%d" % k
            layout[axname_x] = dict(
                domain=[px(x0), px(x1)], anchor=ya, range=[0.45, 12.55],
                tickmode="array", tickvals=months, ticktext=month_labels,
                tickangle=-90, ticks="outside", ticklen=4, tickcolor="#333",
                tickfont=dict(size=12.5, color="#222", family=FONT),
                showgrid=True, gridcolor="#e6e6e6", gridwidth=1,
                showline=True, linecolor="#333", linewidth=2, mirror=True,
                zeroline=False, fixedrange=True)
            layout[axname_y] = dict(
                domain=[py(y1), py(y0)], anchor=xa, range=[lo, hi],
                tickmode="array", tickvals=ticks, ticktext=[fmt(t) for t in ticks],
                ticks="outside", ticklen=3, tickcolor="#333",
                tickfont=dict(size=13.5, color="#222", family=FONT),
                showgrid=True, gridcolor="#e6e6e6", gridwidth=1,
                showline=True, linecolor="#333", linewidth=2, mirror=True,
                zeroline=False, fixedrange=True)
            annotations.append(dict(
                text="%s %s stations" % (countries[r], stations[c]),
                x=px((x0 + x1) / 2), y=py(y0 - 1), xref="paper", yref="paper",
                xanchor="center", yanchor="bottom", showarrow=False,
                font=dict(size=14, color="#111", family=FONT)))

for key, name in zip(["pert", "eq", "ab"], series_names):
    fig.add_trace(go.Scatter(x=[None], y=[None], mode="lines", name=name,
                             line=dict(color=LINE[key], width=1.5),
                             xaxis="x", yaxis="y"))

annotations += [
    dict(text="(a)", x=px(316), y=py(15), xref="paper", yref="paper", showarrow=False,
         xanchor="center", yanchor="middle",
         font=dict(size=20, family="DejaVu Serif, serif", color="#111")),
    dict(text="(b)", x=px(893), y=py(15), xref="paper", yref="paper", showarrow=False,
         xanchor="center", yanchor="middle",
         font=dict(size=20, family="DejaVu Serif, serif", color="#111")),
    dict(text="Time (month)", x=px(316), y=py(522), xref="paper", yref="paper",
         xanchor="center", yanchor="middle",
         showarrow=False, font=dict(size=15, family=FONT, color="#111")),
    dict(text="Time (month)", x=px(893), y=py(522), xref="paper", yref="paper",
         xanchor="center", yanchor="middle",
         showarrow=False, font=dict(size=15, family=FONT, color="#111")),
    dict(text="Monthly SO<sub>2</sub> concentration (µg.m<sup>-3</sup>)", x=px(18),
         y=py(266), xref="paper", yref="paper", showarrow=False, textangle=-90,
         xanchor="center", yanchor="middle",
         font=dict(size=15, family=FONT, color="#111")),
    dict(text="Monthly NO<sub>2</sub> concentration (µg.m<sup>-3</sup>)", x=px(617),
         y=py(266), xref="paper", yref="paper", showarrow=False, textangle=-90,
         xanchor="center", yanchor="middle",
         font=dict(size=15, family=FONT, color="#111")),
]

fig.update_layout(
    width=W, height=H, margin=dict(l=0, r=0, t=0, b=0),
    plot_bgcolor="white", paper_bgcolor="white",
    font=dict(family=FONT, size=12, color="#111"),
    annotations=annotations,
    showlegend=True,
    legend=dict(orientation="h", x=px(603), xanchor="center", y=py(551), yanchor="middle",
                font=dict(size=14, family=FONT, color="#111"), bgcolor="rgba(0,0,0,0)",
                itemwidth=30, tracegroupgap=0),
    **layout)

fig.write_html("out.html")
